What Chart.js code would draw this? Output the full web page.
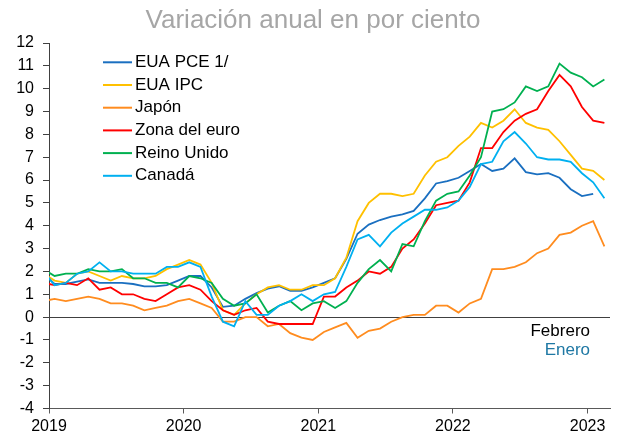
<!DOCTYPE html>
<html><head><meta charset="utf-8">
<script src="https://cdn.jsdelivr.net/npm/chart.js@4/dist/chart.umd.min.js"></script>
<style>html,body{margin:0;padding:0;background:#fff}#w{width:621px;height:440px}</style>
</head><body><div id="w"><canvas id="c" width="621" height="440"></canvas></div>
<script>
const months = ['2018-12',
 '2019-01','2019-02','2019-03','2019-04','2019-05','2019-06','2019-07','2019-08','2019-09','2019-10','2019-11','2019-12',
 '2020-01','2020-02','2020-03','2020-04','2020-05','2020-06','2020-07','2020-08','2020-09','2020-10','2020-11','2020-12',
 '2021-01','2021-02','2021-03','2021-04','2021-05','2021-06','2021-07','2021-08','2021-09','2021-10','2021-11','2021-12',
 '2022-01','2022-02','2022-03','2022-04','2022-05','2022-06','2022-07','2022-08','2022-09','2022-10','2022-11','2022-12',
 '2023-01','2023-02'];
const euaPCE = [1.9,
 1.45,1.45,1.55,1.65,1.5,1.5,1.5,1.45,1.35,1.35,1.4,1.6,
 1.8,1.8,1.3,0.45,0.5,0.8,1.05,1.25,1.35,1.15,1.15,1.3,
 1.5,1.7,2.55,3.65,4.05,4.25,4.4,4.5,4.65,5.2,5.85,5.95,
 6.1,6.4,6.7,6.4,6.5,6.95,6.35,6.25,6.3,6.1,5.6,5.3,
 5.4,null];
const euaIPC = [1.9,
 1.6,1.5,1.9,2.0,1.8,1.6,1.8,1.7,1.7,1.8,2.1,2.3,
 2.5,2.3,1.5,0.3,0.1,0.6,1.0,1.3,1.4,1.2,1.2,1.4,
 1.4,1.7,2.6,4.2,5.0,5.4,5.4,5.3,5.4,6.2,6.8,7.0,
 7.5,7.9,8.5,8.3,8.6,9.1,8.5,8.3,8.2,7.7,7.1,6.5,
 6.4,6.0];
const japon = [0.7,
 0.8,0.7,0.8,0.9,0.8,0.6,0.6,0.5,0.3,0.4,0.5,0.7,
 0.8,0.6,0.4,-0.2,-0.2,0.0,0.0,-0.4,-0.3,-0.7,-0.9,-1.0,
 -0.65,-0.45,-0.25,-0.9,-0.6,-0.5,-0.2,0.0,0.1,0.1,0.5,0.5,
 0.2,0.6,0.8,2.1,2.1,2.2,2.4,2.8,3.0,3.6,3.7,4.0,
 4.2,3.1];
const zonaEuro = [1.5,
 1.4,1.5,1.4,1.7,1.2,1.3,1.0,1.0,0.8,0.7,1.0,1.3,
 1.4,1.2,0.7,0.3,0.1,0.3,0.4,-0.2,-0.3,-0.3,-0.3,-0.3,
 0.9,0.9,1.3,1.6,2.0,1.9,2.2,3.0,3.4,4.1,4.9,5.0,
 5.1,5.9,7.4,7.4,8.1,8.6,8.9,9.1,9.9,10.6,10.1,9.2,
 8.6,8.5];
const reinoUnido = [2.1,
 1.8,1.9,1.9,2.1,2.0,2.0,2.1,1.7,1.7,1.5,1.5,1.3,
 1.8,1.7,1.5,0.8,0.5,0.6,1.0,0.2,0.5,0.7,0.3,0.6,
 0.7,0.4,0.7,1.5,2.1,2.5,2.0,3.2,3.1,4.2,5.1,5.4,
 5.5,6.2,7.0,9.0,9.1,9.4,10.1,9.9,10.1,11.1,10.7,10.5,
 10.1,10.4];
const canada = [2.0,
 1.4,1.5,1.9,2.0,2.4,2.0,2.0,1.9,1.9,1.9,2.2,2.2,
 2.4,2.2,0.9,-0.2,-0.4,0.7,0.1,0.1,0.5,0.7,1.0,0.7,
 1.0,1.1,2.2,3.4,3.6,3.1,3.7,4.1,4.4,4.7,4.7,4.8,
 5.1,5.7,6.7,6.8,7.7,8.1,7.6,7.0,6.9,6.9,6.8,6.3,
 5.9,5.2];
const seriesNames = ['EUA PCE 1/','EUA IPC','Japón','Zona del euro','Reino Unido','Canadá'];
const seriesColors = ['#1a6fc0','#ffc000','#ff8c1f','#ff0000','#00b050','#00b0f0'];
const yearTicks = [0,12,24,36,48];
const yearLabels = ['2019','2020','2021','2022','2023'];
const titleText = 'Variación anual en por ciento';
const notes = ['Febrero','Enero'];

const FONT = '"Liberation Sans", Arial, sans-serif';
function monthX(m){const [y,mo]=m.split('-').map(Number);return (y-2019)*12+(mo-1)+0.5;}
function pts(arr){return months.map((m,i)=>({x:monthX(m),y:arr[i]}));}
const allSeries=[euaPCE,euaIPC,japon,zonaEuro,reinoUnido,canada];

const deco = {
  id:'deco',
  afterDraw(chart){
    const ctx=chart.ctx; ctx.save();
    ctx.font='26px '+FONT; ctx.fillStyle='#a6a6a6'; ctx.textAlign='center'; ctx.textBaseline='alphabetic';
    ctx.fillText(titleText, 313, 27.5);
    ctx.font='17px '+FONT; ctx.textAlign='left'; ctx.textBaseline='middle';
    chart.data.datasets.forEach((ds,i)=>{
      const y=62.3+i*22.7;
      ctx.strokeStyle=ds.borderColor; ctx.lineWidth=2;
      ctx.beginPath(); ctx.moveTo(103,y); ctx.lineTo(132,y); ctx.stroke();
      ctx.fillStyle='#000'; ctx.fillText(ds.label,135,y);
    });
    ctx.textAlign='right'; ctx.textBaseline='alphabetic';
    ctx.fillStyle='#000'; ctx.fillText(notes[0],590,336);
    ctx.fillStyle='#1f78a4'; ctx.fillText(notes[1],590,355);
    ctx.restore();
  }
};

new Chart(document.getElementById('c'),{
  type:'line',
  data:{datasets:allSeries.map((s,i)=>({
    label:seriesNames[i], data:pts(s), borderColor:seriesColors[i], backgroundColor:seriesColors[i],
    borderWidth:1.8, pointRadius:0, tension:0, fill:false, clip:0, spanGaps:false, order:allSeries.length-i
  }))},
  options:{
    responsive:false, animation:false, devicePixelRatio:1,
    layout:{padding:{top:43,right:11,bottom:0,left:0}},
    plugins:{legend:{display:false},title:{display:false},tooltip:{enabled:false}},
    scales:{
      x:{type:'linear',min:0,max:50,
        afterBuildTicks:s=>{s.ticks=yearTicks.map(v=>({value:v}));},
        afterFit:s=>{s.height=31.5;},
        ticks:{callback:(v)=>yearLabels[yearTicks.indexOf(v)],color:'#000',font:{size:16,family:FONT},padding:3,maxRotation:0,autoSkip:false},
        grid:{drawOnChartArea:false,tickLength:5,tickColor:'#595959',color:'#595959'},
        border:{color:'#595959',width:1}},
      y:{min:-4,max:12,
        afterFit:s=>{s.width=49;},
        ticks:{stepSize:1,color:'#000',font:{size:16,family:FONT},padding:9},
        grid:{color:c=>(c.tick&&c.tick.value===0)?'#404040':'rgba(0,0,0,0)',tickColor:'#404040',tickLength:6,lineWidth:1},
        border:{color:'#404040',width:1}}
    }
  },
  plugins:[deco]
});
</script></body></html>
